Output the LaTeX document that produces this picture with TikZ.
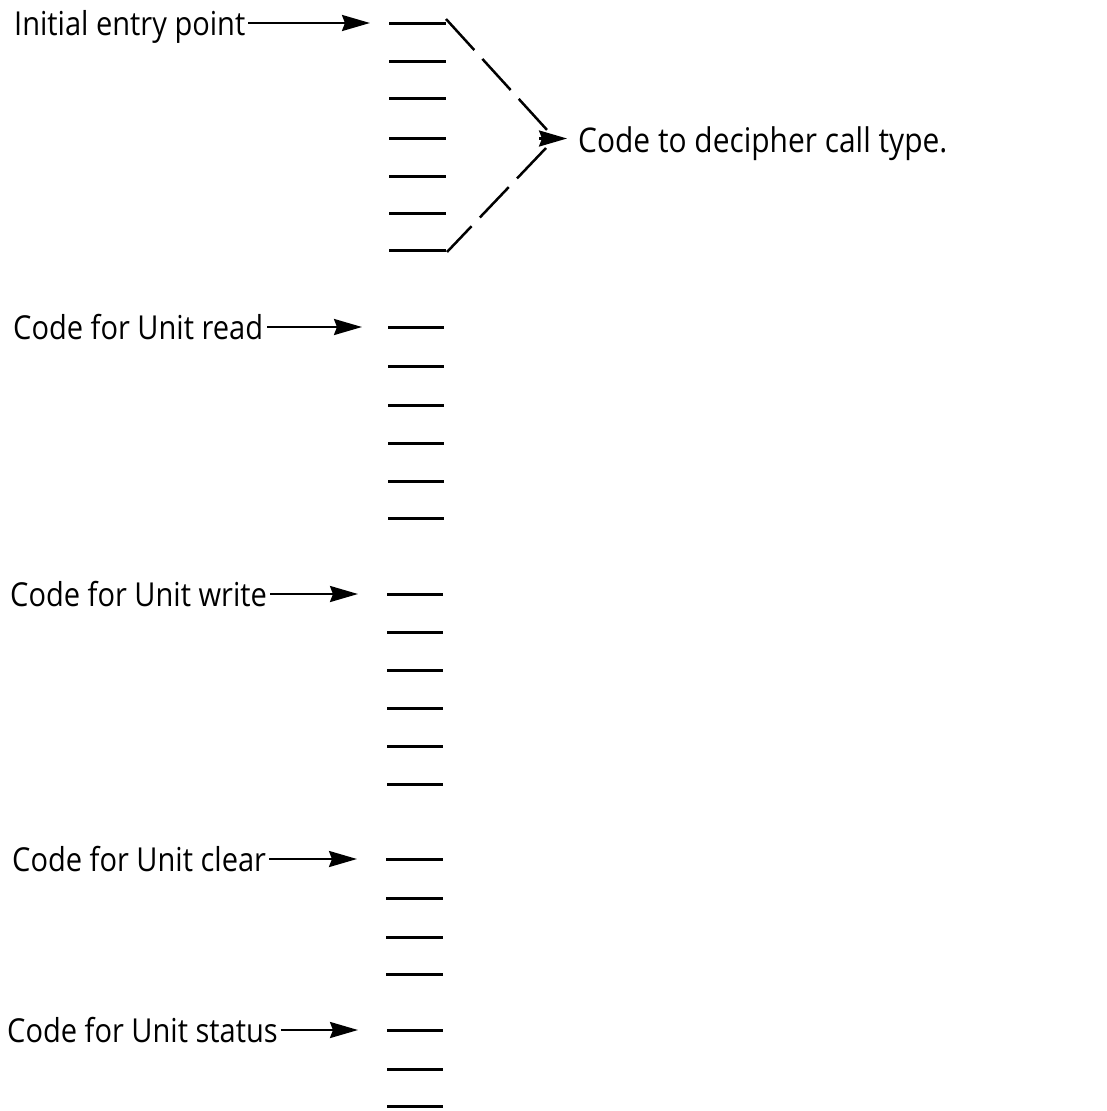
\documentclass[tikz,border=0pt]{standalone}
\usepackage{fontspec}
\setmainfont[FakeStretch=0.88]{Open Sans}
\usetikzlibrary{arrows.meta,calc}
\begin{document}
\begin{tikzpicture}[x=1pt,y=-1pt,
  tick/.style={line width=3pt},
  lbl/.style={inner sep=0pt, anchor=base west, font=\fontsize{33}{38}\selectfont},
  arr/.style={line width=2.5pt,-{Stealth[length=28pt,width=16pt,inset=3pt]}},
  dsh/.style={line width=2.5pt,dash pattern=on 42pt off 12pt}]
\useasboundingbox (0,0) rectangle (1106,1111);
% tick marks
\foreach \y [count=\i] in {23,61,98,138,176,213,250}
  {\coordinate (a\i) at (389,\y); \draw[tick] (a\i) -- ++(57,0);}
\foreach \y [count=\i] in {327,366,405,443,481,518}
  {\coordinate (b\i) at (388,\y); \draw[tick] (b\i) -- ++(56,0);}
\foreach \y [count=\i] in {594,632,670,708,746,784}
  {\coordinate (c\i) at (387,\y); \draw[tick] (c\i) -- ++(56,0);}
\foreach \y [count=\i] in {859,898,937,974}
  {\coordinate (d\i) at (386,\y); \draw[tick] (d\i) -- ++(57,0);}
\foreach \y [count=\i] in {1030,1069,1106}
  {\coordinate (e\i) at (387,\y); \draw[tick] (e\i) -- ++(56,0);}
% labels
\node[lbl] (L1) at (14,35) {Initial entry point};
\node[lbl] (L2) at (13,339) {Code for Unit read};
\node[lbl] (L3) at (10,606) {Code for Unit write};
\node[lbl] (L4) at (12,871) {Code for Unit clear};
\node[lbl] (L5) at (7,1042) {Code for Unit status};
\node[lbl,font=\fontsize{34}{40}\selectfont] (dec) at (578,152) {Code to decipher call type.};
% arrows
\draw[arr] ([xshift=3pt]L1.east |- a1) -- ([xshift=-19pt]a1);
\draw[arr] ([xshift=4pt]L2.east |- b1) -- ([xshift=-26pt]b1);
\draw[arr] ([xshift=3pt]L3.east |- c1) -- ([xshift=-29pt]c1);
\draw[arr] ([xshift=3pt]L4.east |- d1) -- ([xshift=-29pt]d1);
\draw[arr] ([xshift=3pt]L5.east |- e1) -- ([xshift=-29pt]e1);
% dashed bracket
\coordinate (p1) at (446,19);
\coordinate (p7) at (447,252);
\coordinate (v1) at (548,131);
\coordinate (v2) at (546,148);
\coordinate (v) at (539,138.5);
\draw[dsh] (p1) -- (v1);
\draw[dsh] (v2) -- (p7);
\draw[arr,shorten >=11pt] (v) -- (v -| dec.west);
\end{tikzpicture}
\end{document}
